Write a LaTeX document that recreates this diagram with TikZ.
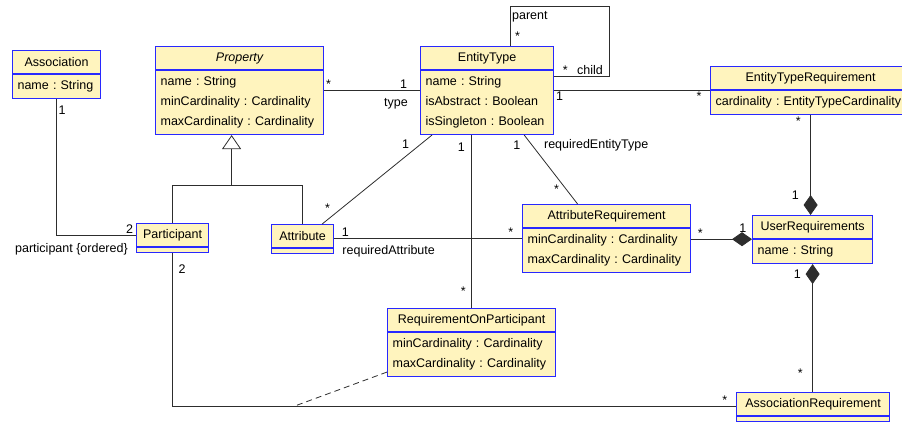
\documentclass[tikz,border=0pt]{standalone}
\usepackage{fontspec}
\setmainfont{Liberation Sans}
\usetikzlibrary{arrows.meta,positioning}

\definecolor{classfill}{RGB}{255,244,190}
\definecolor{classline}{RGB}{40,40,255}
\definecolor{linkline}{RGB}{45,45,45}

\tikzset{
  classhead/.style={draw=classline, fill=classfill, line width=1.2pt, minimum height=23pt, inner sep=0pt, anchor=north west},
  classbody/.style={draw=classline, fill=classfill, line width=1.2pt, inner xsep=5pt, inner ysep=6pt, text width=#1, align=left},
  emptybody/.style={draw=classline, fill=classfill, line width=1.2pt, minimum width=#1, minimum height=5pt, inner sep=0pt},
  assocline/.style={draw=linkline, line width=0.8pt},
  lbl/.style={inner sep=1.5pt}
}

\frenchspacing
\hyphenpenalty=10000

\begin{document}
\begin{tikzpicture}[x=1pt,y=-1pt,font=\fontsize{12.5}{20}\selectfont]
  \useasboundingbox (0,0) rectangle (902,421);
  \clip (0,0) rectangle (902,421);

  % classes
  \node[classhead, minimum width=88pt] (assoc) at (12,50) {Association};
  \node[classbody=78pt, below=0pt of assoc] (assoc-b) {name : String};

  \node[classhead, minimum width=168pt] (prop) at (155,46) {\itshape Property};
  \node[classbody=158pt, below=0pt of prop] (prop-b) {name : String\\minCardinality : Cardinality\\maxCardinality : Cardinality};

  \node[classhead, minimum width=133pt] (ent) at (420,46) {EntityType};
  \node[classbody=123pt, below=0pt of ent] (ent-b) {name : String\\isAbstract : Boolean\\isSingleton : Boolean};

  \node[classhead, minimum width=200pt] (etr) at (710,66) {EntityTypeRequirement};
  \node[classbody=190pt, below=0pt of etr] (etr-b) {cardinality : EntityTypeCardinality};

  \node[classhead, minimum width=72pt] (part) at (136,223) {Participant};
  \node[emptybody=72pt, below=0pt of part] (part-b) {};

  \node[classhead, minimum width=62pt] (attr) at (271,224) {Attribute};
  \node[emptybody=62pt, below=0pt of attr] (attr-b) {};

  \node[classhead, minimum width=168pt] (areq) at (522,204) {AttributeRequirement};
  \node[classbody=158pt, below=0pt of areq] (areq-b) {minCardinality : Cardinality\\maxCardinality : Cardinality};

  \node[classhead, minimum width=120pt] (ureq) at (752,215) {UserRequirements};
  \node[classbody=110pt, below=0pt of ureq] (ureq-b) {name : String};

  \node[classhead, minimum width=168pt] (rop) at (387,308) {RequirementOnParticipant};
  \node[classbody=158pt, below=0pt of rop] (rop-b) {minCardinality : Cardinality\\maxCardinality : Cardinality};

  \node[classhead, minimum width=153pt] (asreq) at (736,392) {AssociationRequirement};
  \node[emptybody=153pt, below=0pt of asreq] (asreq-b) {};

  % generalisation
  \coordinate (gen) at ([xshift=-8pt]prop-b.south);
  \draw[assocline] (part.north) |- ([yshift=-50pt]gen) -| (attr.north);
  \draw[assocline, -{Triangle[open, length=14pt, width=19pt]}] ([yshift=-50pt]gen) -- (gen);

  % associations
  \draw[assocline] (assoc-b.south) |- (part.west)
    node[lbl, pos=0.04, right] {1}
    node[lbl, pos=0.96, above] {2}
    node[lbl, pos=0.96, anchor=north east, yshift=-6pt] {participant \{ordered\}};

  \draw[assocline] ([yshift=-20pt]prop.south east) -- ([yshift=-20pt]ent.south west)
    node[lbl, pos=0, above right] {*}
    node[lbl, pos=0.83, above] {1}
    node[lbl, pos=0.75, below, yshift=-6pt] {type};

  \draw[assocline] ([xshift=-44pt]ent.north east) -- node[lbl, pos=0.25, right, xshift=3pt] {*} ++(0,-40)
    node[lbl, below right, yshift=-4pt] {parent}
    -| ([xshift=55pt, yshift=-6pt]ent-b.north east) -- ([yshift=-6pt]ent-b.north east)
    node[lbl, pos=0.8, above] {*}
    node[lbl, pos=0.35, above] {child};

  \draw[assocline] ([yshift=-20pt]ent.south east) -- (etr.south west)
    node[lbl, pos=0, below right] {1}
    node[lbl, pos=0.93, below] {*};

  \draw[assocline] ([xshift=12pt]ent-b.south west) -- ([xshift=-12pt]attr.north east)
    node[lbl, pos=0.1, left=10pt] {1}
    node[lbl, pos=0.82, left=10pt] {*};

  \draw[assocline] (rop.north |- ent-b.south) -- (rop.north)
    node[lbl, pos=0.07, left=5pt] {1}
    node[lbl, pos=0.9, left=4pt] {*};

  \draw[assocline] ([xshift=-30pt]ent-b.south east) -- ([xshift=-29pt]areq.north)
    node[lbl, pos=0.15, left=10pt] {1}
    node[lbl, pos=0.15, right=10pt] {requiredEntityType}
    node[lbl, pos=0.78, left=5pt] {*};

  \draw[assocline] ([yshift=-2.5pt]attr.east) -- ([yshift=-2.5pt]attr.east -| areq-b.west)
    node[lbl, pos=0.06, above] {1}
    node[lbl, pos=0.29, below, yshift=-5pt] {requiredAttribute}
    node[lbl, pos=0.94, above] {*};

  % compositions
  \draw[assocline, -{Diamond[length=20pt, width=14pt]}] (areq-b.east |- ureq.south west) -- (ureq.south west)
    node[lbl, pos=0.15, above] {*}
    node[lbl, pos=0.85, above=5pt] {1};

  \draw[assocline, -{Diamond[length=20pt, width=14pt]}] (etr-b.south) -- (etr-b.south |- ureq.north)
    node[lbl, pos=0.06, left=8pt] {*}
    node[lbl, pos=0.8, left=10pt] {1};

  \draw[assocline, {Diamond[length=20pt, width=14pt]}-] (ureq-b.south) -- (ureq-b.south |- asreq.north)
    node[lbl, pos=0.08, left=10pt] {1}
    node[lbl, pos=0.85, left=8pt] {*};

  % association class
  \draw[assocline] (part-b.south) |- ([yshift=-2.5pt]asreq.west)
    node[lbl, pos=0.05, right=4pt] {2}
    node[lbl, pos=0.99, above] {*}
    coordinate[pos=0.607] (acl);
  \draw[assocline, dash pattern=on 6pt off 4pt] ([yshift=5pt]rop-b.south west) -- (acl);
\end{tikzpicture}
\end{document}
